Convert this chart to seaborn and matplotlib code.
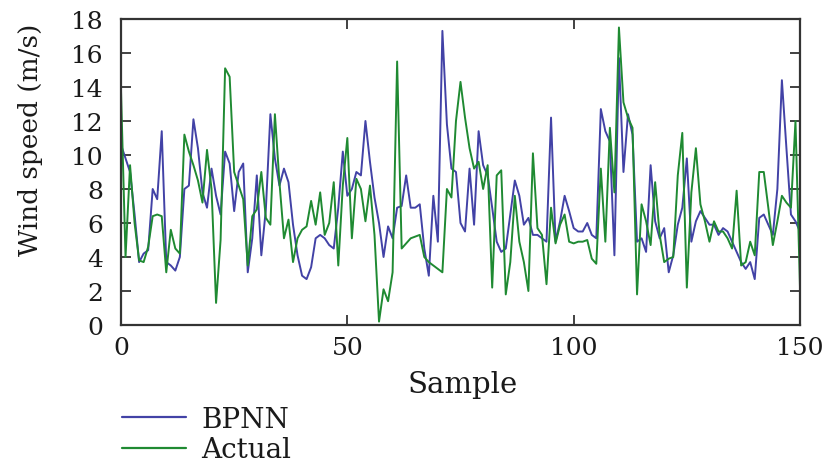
import numpy as np
import pandas as pd
import seaborn as sns
import matplotlib
matplotlib.use("Agg")
import matplotlib.pyplot as plt
from matplotlib.lines import Line2D

bpnn = [10.6, 9.8, 9.0, 6.5, 3.7, 4.2, 4.4, 8.0, 7.4, 11.4,
        3.7, 3.5, 3.2, 4.0, 8.0, 8.2, 12.1, 10.4, 7.8, 6.9,
        9.2, 7.6, 6.5, 10.2, 9.5, 6.7, 9.0, 9.5, 3.1, 5.1,
        8.8, 4.1, 6.8, 12.4, 9.8, 8.2, 9.2, 8.4, 5.9, 4.1,
        2.9, 2.7, 3.4, 5.1, 5.3, 5.1, 4.7, 4.5, 6.9, 10.2,
        7.6, 8.0, 9.0, 8.8, 12.0, 9.6, 7.5, 6.0, 4.0, 5.8,
        5.1, 6.9, 7.0, 8.8, 6.9, 6.9, 7.1, 4.5, 2.9, 7.6,
        4.9, 17.3, 11.8, 9.2, 9.0, 6.0, 5.5, 9.2, 5.9, 11.4,
        9.4, 8.8, 6.9, 4.9, 4.3, 4.5, 6.5, 8.5, 7.6, 5.9,
        6.3, 5.3, 5.3, 5.1, 4.9, 12.2, 4.9, 6.1, 7.6, 6.7,
        5.7, 5.5, 5.5, 6.0, 5.3, 5.1, 12.7, 11.4, 10.8, 4.1,
        15.7, 9.0, 12.4, 11.2, 4.9, 5.1, 4.3, 9.4, 6.1, 5.1,
        5.7, 3.1, 4.1, 5.9, 6.9, 9.8, 4.9, 6.1, 6.7, 6.3,
        5.9, 5.9, 5.3, 5.7, 5.5, 4.9, 4.3, 3.7, 3.3, 3.7,
        2.7, 6.3, 6.5, 5.9, 5.3, 8.0, 14.4, 10.4, 6.5, 6.1,
        5.5]

actual = [13.8, 4.0, 9.4, 6.0, 3.8, 3.7, 4.6, 6.4, 6.5, 6.4,
          3.1, 5.6, 4.5, 4.2, 11.2, 10.2, 9.4, 8.5, 7.2, 10.3,
          8.0, 1.3, 5.0, 15.1, 14.6, 9.0, 8.2, 7.4, 3.5, 6.4,
          6.8, 9.0, 6.3, 5.9, 12.4, 8.4, 5.1, 6.2, 3.7, 5.1,
          5.6, 5.8, 7.3, 5.9, 7.8, 5.3, 6.0, 8.4, 3.5, 8.2,
          11.0, 5.1, 8.6, 8.0, 6.1, 8.2, 5.3, 0.2, 2.1, 1.4,
          3.1, 15.5, 4.5, 4.8, 5.1, 5.2, 5.3, 4.0, 3.7, 3.5,
          3.3, 3.1, 8.0, 7.5, 12.0, 14.3, 12.2, 10.4, 9.2, 9.6,
          8.0, 9.4, 2.2, 8.8, 9.1, 1.8, 3.7, 7.6, 4.9, 3.7,
          2.0, 10.1, 5.7, 5.3, 2.4, 6.9, 4.8, 5.9, 6.5, 4.9,
          4.8, 4.9, 4.9, 5.0, 3.9, 3.6, 9.2, 4.9, 11.6, 7.8,
          17.5, 13.1, 12.2, 11.6, 1.8, 7.1, 6.1, 4.7, 8.4, 5.3,
          3.7, 3.9, 4.0, 8.8, 11.3, 2.2, 7.8, 10.4, 7.1, 6.1,
          4.9, 6.1, 5.5, 5.5, 5.1, 4.5, 7.9, 3.5, 3.7, 4.9,
          4.1, 9.0, 9.0, 6.9, 4.7, 6.1, 7.6, 7.2, 6.9, 12.0,
          2.2]

samples = list(range(len(bpnn)))
series_names = ["BPNN", "Actual"]
x_ticks = [0, 50, 100, 150]
y_ticks = [0, 2, 4, 6, 8, 10, 12, 14, 16, 18]

df = pd.DataFrame({
    "Sample": samples * 2,
    "Wind speed": bpnn + actual,
    "Series": [series_names[0]] * len(bpnn) + [series_names[1]] * len(actual),
})

sns.set_theme(style="white")
plt.rcParams["font.family"] = ["DejaVu Serif", "Liberation Serif"]

W, H = 829, 464
fig = plt.figure(figsize=(W / 100, H / 100), dpi=100)
ax = fig.add_axes([121 / W, 1 - 326 / H, (800 - 121) / W, (326 - 20) / H])

palette = {"BPNN": "#4242a6", "Actual": "#1f8a32"}
sns.lineplot(data=df, x="Sample", y="Wind speed", hue="Series",
             palette=palette, linewidth=1.4, ax=ax, legend=False)

ax.set_xlim(0, 150)
ax.set_ylim(0, 18)
ax.set_xticks(x_ticks)
ax.set_yticks(y_ticks)
ax.tick_params(direction="in", length=7, width=1.3, colors="#333333",
               labelcolor="#1a1a1a", labelsize=18, top=True, right=True,
               left=True, bottom=True)
ax.tick_params(axis="y", pad=13)
ax.tick_params(axis="x", pad=8)
for s in ax.spines.values():
    s.set_color("#333333")
    s.set_linewidth(1.6)
ax.set_xlabel("Sample", fontsize=21, color="#1a1a1a")
ax.xaxis.set_label_coords((463 - 121) / (800 - 121), -(385 - 326) / (326 - 20))
ax.xaxis.label.set_va("center")
ax.set_ylabel("Wind speed (m/s)", fontsize=19, color="#1a1a1a")
ax.yaxis.set_label_coords(-(121 - 30) / (800 - 121), (326 - 140) / (326 - 20))
ax.yaxis.label.set_va("center")

handles = [Line2D([0], [0], color=palette[n], lw=1.6) for n in series_names]
fig.legend(handles, series_names, loc="upper left",
           bbox_to_anchor=(122 / W, 1 - 407 / H), frameon=False,
           fontsize=20, handlelength=2.3, handletextpad=0.55,
           labelspacing=0.12, borderpad=0, borderaxespad=0,
           labelcolor="#1a1a1a")

fig.savefig("out.png", dpi=100)
